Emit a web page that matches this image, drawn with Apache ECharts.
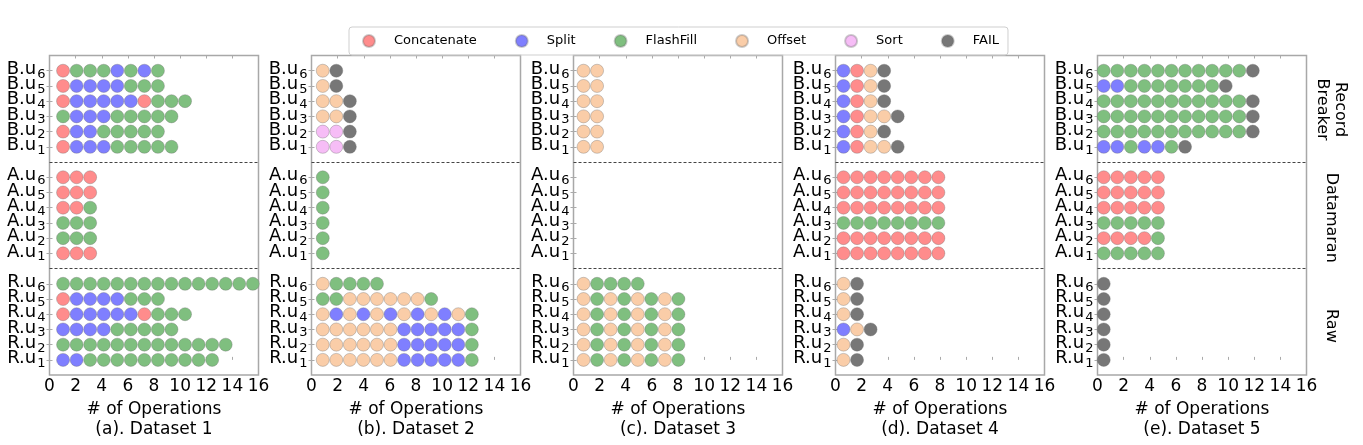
<!DOCTYPE html>
<html><head><meta charset="utf-8">
<script src="https://cdn.jsdelivr.net/npm/echarts@6/dist/echarts.min.js"></script>
<style>html,body{margin:0;padding:0;background:#fff}#c{width:1363px;height:445px}</style>
</head><body><div id="c"></div>
<script>
// ---------------- data ----------------
const operations = ['Concatenate', 'Split', 'FlashFill', 'Offset', 'Sort', 'FAIL'];
const opCodes    = ['C', 'S', 'F', 'O', 'T', 'X'];
const opColors   = ['#ff8c8c', '#7f7fff', '#7fbf7f', '#facda8', '#f6bdf6', '#777777'];
const xTickValues = [0, 2, 4, 6, 8, 10, 12, 14, 16];
const groups = ['R', 'A', 'B'];               // bottom to top
const userNumbers = [1, 2, 3, 4, 5, 6];      // u1 .. u6 (bottom to top)
const sectionNames = ['Raw', 'Datamaran', 'Record\nBreaker'];
const datasetTitles = ['(a). Dataset 1', '(b). Dataset 2', '(c). Dataset 3', '(d). Dataset 4', '(e). Dataset 5'];

// operation sequences, rows listed u1..u6
const d1_R = ['SSFFFFFFFFFF', 'FFFFFFFFFFFFF', 'SSSSFFFFF', 'CSSSSSCFFF', 'CSSSSFFF', 'FFFFFFFFFFFFFFF'];
const d1_A = ['CCC', 'FFF', 'FFF', 'CCF', 'CCC', 'CCC'];
const d1_B = ['CSSSFFFFF', 'CSSFFFFF', 'FSSSFFFFF', 'CSSSSSCFFF', 'CSSSSFFF', 'CFFFSFSF'];

const d2_R = ['OOOOOOSSSSSF', 'OOOOOOSSSSSF', 'OOOOOOSSSSSF', 'OSOSOSOSOSOF', 'FFOOOOOOF', 'OFFFF'];
const d2_A = ['F', 'F', 'F', 'F', 'F', 'F'];
const d2_B = ['TTX', 'TTX', 'OOX', 'OOX', 'OX', 'OX'];

const d3_R = ['OFOFOFOF', 'OFOFOFOF', 'OFOFOFOF', 'OFOFOFOF', 'OFOFOFOF', 'OFFFF'];
const d3_A = ['', '', '', '', '', ''];
const d3_B = ['OO', 'OO', 'OO', 'OO', 'OO', 'OO'];

const d4_R = ['OX', 'OX', 'SOX', 'OX', 'OX', 'OX'];
const d4_A = ['CCCCCCCC', 'CCCCCCCC', 'FFFFFFFF', 'CCCCCCCC', 'CCCCCCCC', 'CCCCCCCC'];
const d4_B = ['SCOOX', 'SCOX', 'SCOOX', 'SCOX', 'SCOX', 'SCOX'];

const d5_R = ['X', 'X', 'X', 'X', 'X', 'X'];
const d5_A = ['FFFFF', 'CCCCF', 'FFFFF', 'CCCCC', 'CCCCC', 'CCCCC'];
const d5_B = ['SSFSSFX', 'FFFFFFFFFFFX', 'FFFFFFFFFFFX', 'FFFFFFFFFFFX', 'SSFFFFFFFX', 'FFFFFFFFFFFX'];

const datasets = [
  [d1_R, d1_A, d1_B], [d2_R, d2_A, d2_B], [d3_R, d3_A, d3_B], [d4_R, d4_A, d4_B], [d5_R, d5_A, d5_B]
];

// ---------------- layout ----------------
const FONT = 'DejaVu Sans';
const panelLeft = [49.5, 311.5, 573.5, 835.5, 1097.5];
const panelWidth = 209;
const panelTop = 55.5, panelHeight = 324.5;
const dotAxisMin = [0.0, 0.17, 0.26, 0.41, 0.54];
const dotAxisSpan = 15.42;
const SLOTS_PER_GROUP = 7;
const Y_MIN = -1, Y_MAX = 20;
const rowSlots = [];
groups.forEach((g, gi) => userNumbers.forEach((u, ui) => rowSlots.push(gi * SLOTS_PER_GROUP + ui)));
// label positions padded with the (hidden) axis ends so that no real label is dropped
const labelSlots = [Y_MIN].concat(rowSlots, [Y_MAX]);

const grids = [], xAxes = [], yAxes = [], series = [];
datasets.forEach((ds, p) => {
  grids.push({ left: panelLeft[p], top: panelTop, width: panelWidth, height: panelHeight,
    show: true, borderColor: '#a8a8a8', borderWidth: 1.5, backgroundColor: '#fff' });
  // visible label axis
  xAxes.push({ gridIndex: p, type: 'value', min: 0, max: 16, interval: 2, position: 'bottom',
    axisLine: { show: false }, splitLine: { show: false },
    axisTick: { show: true, inside: true, length: 3, lineStyle: { color: '#aaa' } },
    axisLabel: { fontFamily: FONT, fontSize: 17, color: '#000', margin: 3, showMinLabel: true, showMaxLabel: true,
      customValues: xTickValues },
    name: '# of Operations\n' + datasetTitles[p], nameLocation: 'middle', nameGap: 24,
    nameTextStyle: { fontFamily: FONT, fontSize: 17, color: '#000', lineHeight: 20 } });
  // dot axis (hidden)
  xAxes.push({ gridIndex: p, type: 'value', min: dotAxisMin[p], max: dotAxisMin[p] + dotAxisSpan, show: false });
  // top ticks
  xAxes.push({ gridIndex: p, type: 'value', min: 0, max: 16, interval: 2, position: 'top',
    axisLine: { show: false }, splitLine: { show: false }, axisLabel: { show: false },
    axisTick: { show: true, inside: true, length: 3, lineStyle: { color: '#aaa' } } });
  yAxes.push({ gridIndex: p, type: 'value', min: Y_MIN, max: Y_MAX, position: 'left',
    axisLine: { show: false }, splitLine: { show: false },
    axisTick: { show: true, inside: true, length: 3, customValues: rowSlots, lineStyle: { color: '#aaa' } },
    axisLabel: { customValues: labelSlots, margin: 4, showMinLabel: false, showMaxLabel: false, hideOverlap: false,
      formatter: v => {
        if (rowSlots.indexOf(v) < 0) return '';
        const gi = Math.floor(v / SLOTS_PER_GROUP), ui = v % SLOTS_PER_GROUP;
        return '{m|' + groups[gi] + '.u}{s|' + userNumbers[ui] + '}';
      },
      rich: {
        m: { fontFamily: FONT, fontSize: 18, color: '#000', lineHeight: 20, padding: [0, 0, 3, 0] },
        s: { fontFamily: FONT, fontSize: 13, color: '#000', lineHeight: 12, verticalAlign: 'bottom', padding: [0, 0, 0, 1] }
      } } });
  yAxes.push({ gridIndex: p, type: 'value', min: Y_MIN, max: Y_MAX, position: 'right',
    axisLine: { show: false }, splitLine: { show: false }, axisLabel: { show: false },
    axisTick: { show: true, inside: true, length: 3, customValues: rowSlots, lineStyle: { color: '#aaa' } } });

  operations.forEach((op, oi) => {
    const pts = [];
    ds.forEach((rows, gi) => rows.forEach((seq, ui) => {
      seq.split('').forEach((ch, k) => {
        if (ch === opCodes[oi]) pts.push([k + 1, gi * SLOTS_PER_GROUP + ui]);
      });
    }));
    series.push({ type: 'scatter', name: op, xAxisIndex: p * 3 + 1, yAxisIndex: p * 2,
      data: pts, symbol: 'circle', symbolSize: 13, silent: true, clip: true,
      itemStyle: { color: opColors[oi], borderColor: 'rgba(110,110,110,0.35)', borderWidth: 1, opacity: 1 } });
  });
  series.push({ type: 'line', name: 'sep' + p, xAxisIndex: p * 3 + 1, yAxisIndex: p * 2, data: [],
    markLine: { silent: true, symbol: 'none', label: { show: false },
      lineStyle: { color: '#444', type: [3, 2], width: 1 },
      data: [{ yAxis: SLOTS_PER_GROUP - 1 }, { yAxis: 2 * SLOTS_PER_GROUP - 1 }] } });
});

// section labels on the right
const graphics = sectionNames.map((name, gi) => {
  const centerSlot = gi * SLOTS_PER_GROUP + 2.5;
  return { type: 'text', x: 1331, y: panelTop + (Y_MAX - centerSlot) / (Y_MAX - Y_MIN) * panelHeight,
    rotation: -Math.PI / 2,
    style: { text: name, fontFamily: FONT, fontSize: 16, fill: '#000', align: 'center', verticalAlign: 'middle', lineHeight: 18 } };
});

const chart = echarts.init(document.getElementById('c'), null, { renderer: 'canvas' });
chart.setOption({
  animation: false,
  backgroundColor: '#fff',
  legend: { data: operations, left: 349, top: 27, orient: 'horizontal',
    icon: 'circle', itemWidth: 12, itemHeight: 12, itemGap: 38,
    padding: [7, 9, 7, 13], borderColor: '#cfcfcf', borderWidth: 1, borderRadius: 3,
    textStyle: { fontFamily: FONT, fontSize: 13, color: '#000', padding: [0, 0, 0, 14] } },
  grid: grids, xAxis: xAxes, yAxis: yAxes, series: series, graphic: graphics
});
</script></body></html>
